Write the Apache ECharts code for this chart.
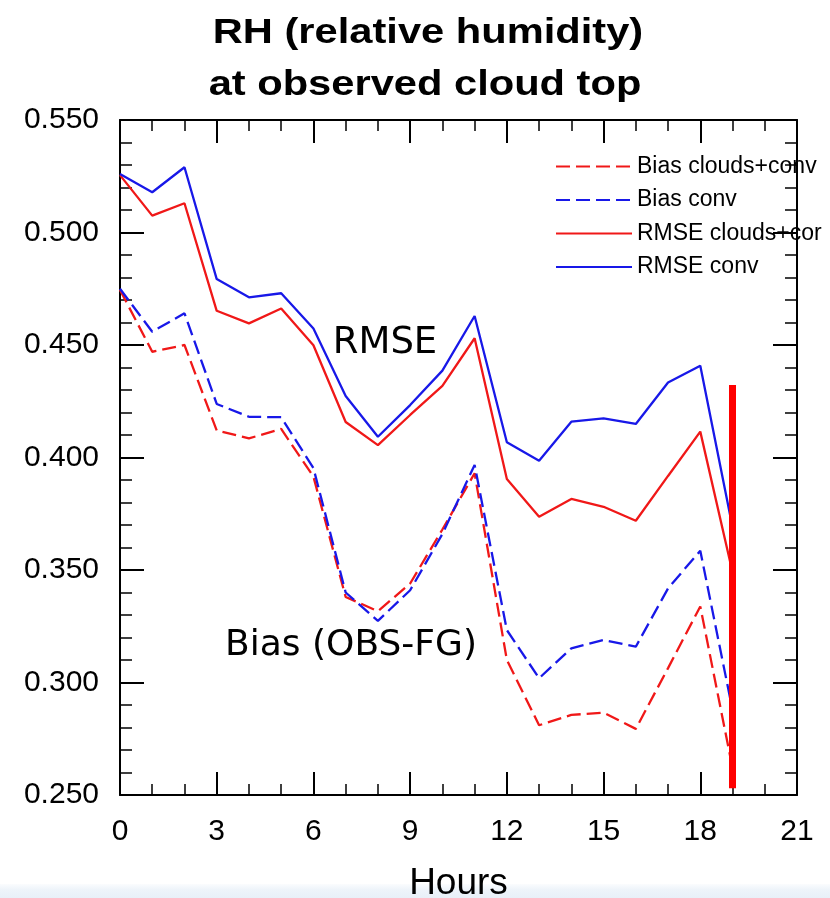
<!DOCTYPE html>
<html>
<head>
<meta charset="utf-8">
<title>RH at observed cloud top</title>
<script src="https://cdn.jsdelivr.net/npm/echarts@6/dist/echarts.min.js"></script>
<style>
  html, body { margin: 0; padding: 0; background: #ffffff; }
  #chart { width: 830px; height: 898px; }
</style>
</head>
<body>
<div id="chart"></div>
<script>
// Forecast hour of each sample
const hours = [0, 1, 2, 3, 4, 5, 6, 7, 8, 9, 10, 11, 12, 13, 14, 15, 16, 17, 18, 19];

// Bias (OBS-FG) of relative humidity
const biasCloudsConv = [0.4745, 0.447, 0.450, 0.412, 0.4085, 0.4127, 0.3915, 0.338, 0.3317, 0.344, 0.368, 0.393,
                        0.310, 0.281, 0.2856, 0.2866, 0.2794, 0.3064, 0.3338, 0.262];
const biasConv       = [0.475, 0.4559, 0.4641, 0.4238, 0.4181, 0.4179, 0.3953, 0.340, 0.3274, 0.341, 0.366, 0.3967,
                        0.3233, 0.3019, 0.3152, 0.3189, 0.3159, 0.3418, 0.3586, 0.2878];

// RMSE of relative humidity
const rmseCloudsConv = [0.5255, 0.5075, 0.513, 0.4652, 0.4596, 0.4662, 0.4499, 0.4158, 0.4055, 0.4189, 0.4318, 0.453,
                        0.3904, 0.3737, 0.3816, 0.3781, 0.3719, 0.3918, 0.4115, 0.349];
const rmseConv       = [0.526, 0.5179, 0.529, 0.4793, 0.4712, 0.473, 0.4573, 0.4273, 0.4092, 0.4233, 0.4386, 0.4629,
                        0.4068, 0.3986, 0.4159, 0.4174, 0.4149, 0.4333, 0.4408, 0.369];

const seriesNames = ['Bias clouds+conv', 'Bias conv', 'RMSE clouds+cor', 'RMSE conv'];

// Vertical marker at hour 19
const markerHour = 19;
const markerRange = [0.253, 0.4322];

const xTicks = { min: 0, max: 21, interval: 3 };
const yTicks = { min: 0.25, max: 0.55, interval: 0.05 };

const RED = '#f01818';
const BLUE = '#1818e8';
const FONT = '"Liberation Sans", Arial, Helvetica, sans-serif';

function pairs(vals) { return hours.map((h, i) => [h, vals[i]]); }

const chart = echarts.init(document.getElementById('chart'), null, { renderer: 'canvas' });

const axisLine = { show: true, onZero: false, lineStyle: { color: '#000', width: 2 } };
const majorTick = (len) => ({ show: true, inside: true, length: len, lineStyle: { color: '#000', width: 2 } });
const minorTick = (n, len) => ({ show: true, splitNumber: n, length: len, lineStyle: { color: '#000', width: 1.5 } });

function lineSeries(name, vals, color, dashed) {
  return {
    name: name,
    type: 'line',
    data: pairs(vals),
    symbol: 'none',
    smooth: false,
    color: color,
    lineStyle: { color: color, width: 2.3, type: dashed ? [14, 6] : 'solid' },
    z: 3
  };
}

const series = [
  lineSeries(seriesNames[0], biasCloudsConv, RED, true),
  lineSeries(seriesNames[1], biasConv, BLUE, true),
  lineSeries(seriesNames[2], rmseCloudsConv, RED, false),
  lineSeries(seriesNames[3], rmseConv, BLUE, false)
];

// Red vertical marker drawn on top of the curves
series[3].markLine = {
  silent: true,
  symbol: 'none',
  label: { show: false },
  lineStyle: { color: '#ff0000', width: 7, type: 'solid' },
  data: [[{ coord: [markerHour, markerRange[1]] }, { coord: [markerHour, markerRange[0]] }]],
  z: 10
};

const titleStyle = { fontFamily: FONT, fontSize: 35, fontWeight: 'bold', fill: '#000',
                     align: 'center', verticalAlign: 'middle' };

const option = {
  backgroundColor: '#ffffff',
  animation: false,
  legend: {
    data: seriesNames,
    orient: 'vertical',
    left: 550,
    top: 150,
    itemWidth: 76,
    itemHeight: 14,
    itemGap: 10.5,
    itemStyle: { opacity: 0 },
    textStyle: { fontFamily: FONT, fontSize: 23, color: '#000', lineHeight: 23 },
    selectedMode: false
  },
  grid: { left: 120, right: 33, top: 120, bottom: 103, containLabel: false, outerBoundsMode: 'none' },
  xAxis: [
    {
      type: 'value', position: 'bottom', min: xTicks.min, max: xTicks.max, interval: xTicks.interval,
      name: 'Hours', nameLocation: 'middle', nameGap: 70,
      nameTextStyle: { fontFamily: FONT, fontSize: 37, color: '#000' },
      axisLine: axisLine, axisTick: majorTick(23), minorTick: minorTick(3, 11),
      splitLine: { show: false },
      axisLabel: { fontFamily: FONT, fontSize: 30, color: '#000', margin: 22 }
    },
    {
      type: 'value', position: 'top', min: xTicks.min, max: xTicks.max, interval: xTicks.interval,
      axisLine: axisLine, axisTick: majorTick(23), minorTick: minorTick(3, 11),
      splitLine: { show: false }, axisLabel: { show: false }
    }
  ],
  yAxis: [
    {
      type: 'value', position: 'left', min: yTicks.min, max: yTicks.max, interval: yTicks.interval,
      axisLine: axisLine, axisTick: majorTick(24), minorTick: minorTick(5, 12),
      splitLine: { show: false },
      axisLabel: { fontFamily: FONT, fontSize: 30, color: '#000', margin: 21, formatter: (v) => v.toFixed(3) }
    },
    {
      type: 'value', position: 'right', min: yTicks.min, max: yTicks.max, interval: yTicks.interval,
      axisLine: axisLine, axisTick: majorTick(24), minorTick: minorTick(5, 12),
      splitLine: { show: false }, axisLabel: { show: false }
    }
  ],
  graphic: [
    // Two-line heading, set in a wide bold face
    { type: 'text', x: 428, y: 33, scaleX: 1.19, z: 5, style: Object.assign({ text: 'RH (relative humidity)' }, titleStyle) },
    { type: 'text', x: 425, y: 85, scaleX: 1.19, z: 5, style: Object.assign({ text: 'at observed cloud top' }, titleStyle) },
    {
      type: 'text', x: 385, y: 343, z: 5,
      style: { text: 'RMSE', fontFamily: '"DejaVu Sans", sans-serif', fontSize: 37, fill: '#000',
               align: 'center', verticalAlign: 'middle' }
    },
    {
      type: 'text', x: 351, y: 646, z: 5,
      style: { text: 'Bias (OBS-FG)', fontFamily: '"DejaVu Sans", sans-serif', fontSize: 36, fill: '#000',
               align: 'center', verticalAlign: 'middle' }
    },
    {
      type: 'rect', left: 0, top: 884, z: -1,
      shape: { width: 830, height: 14 },
      style: {
        fill: new echarts.graphic.LinearGradient(0, 0, 0, 1, [
          { offset: 0, color: 'rgba(236,243,250,0.2)' },
          { offset: 0.4, color: '#eef4fa' },
          { offset: 1, color: '#e8f0f8' }
        ])
      }
    }
  ],
  series: series
};

chart.setOption(option);
</script>
</body>
</html>
